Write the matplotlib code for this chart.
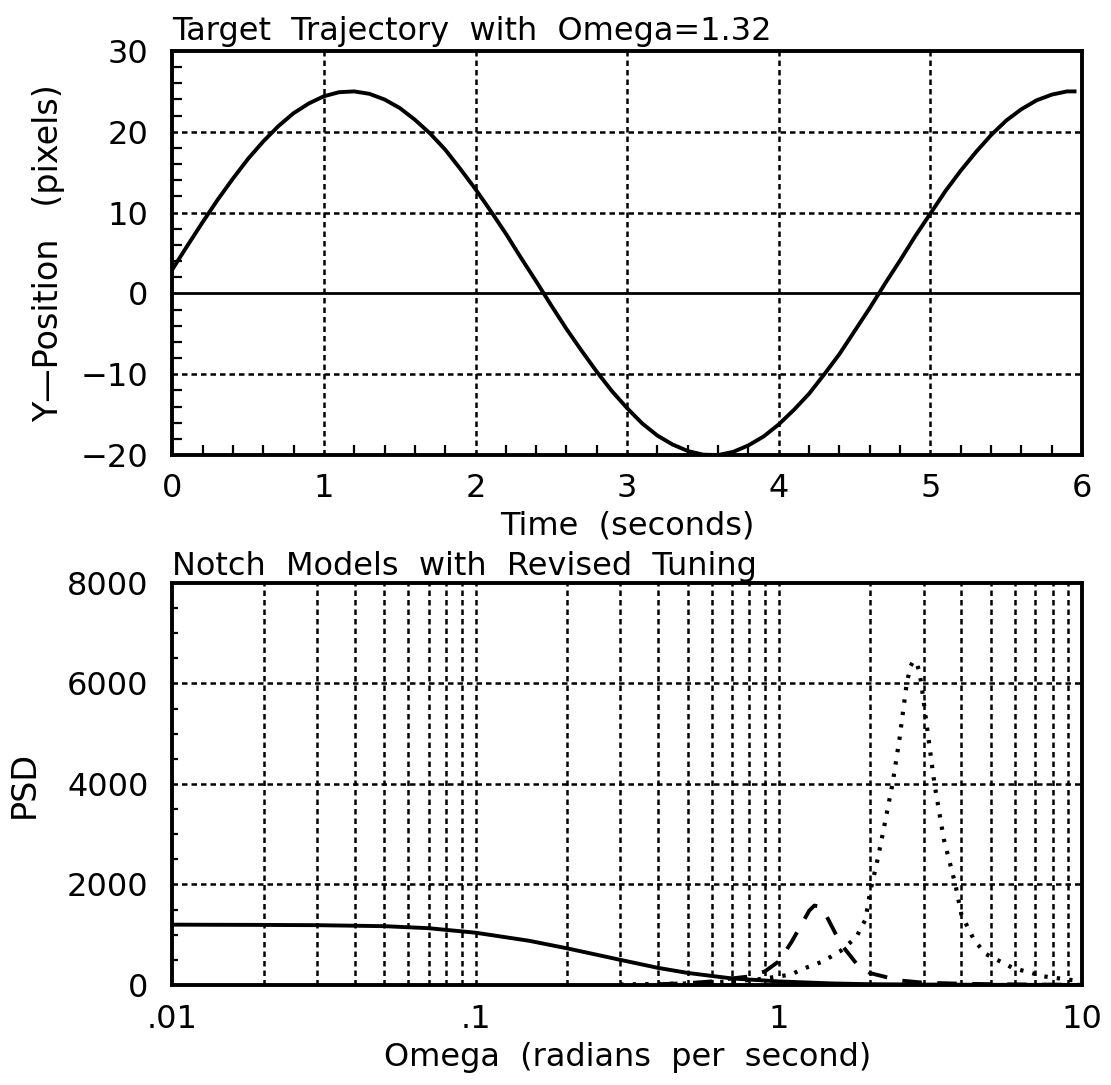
import numpy as np
import matplotlib
matplotlib.use('Agg')
import matplotlib.pyplot as plt
from matplotlib.ticker import MultipleLocator, FixedLocator, NullFormatter

plt.rcParams['font.family'] = ['DejaVu Sans']
plt.rcParams['font.size'] = 23

# top panel: target trajectory
t_sec = [0.0, 0.1, 0.2, 0.3, 0.4, 0.5, 0.6, 0.7, 0.8, 0.9, 1.0, 1.1, 1.2, 1.3, 1.4, 1.5,
         1.6, 1.7, 1.8, 1.9, 2.0, 2.1, 2.2, 2.3, 2.4, 2.5, 2.6, 2.7, 2.8, 2.9, 3.0,
         3.1, 3.2, 3.3, 3.4, 3.5, 3.6, 3.7, 3.8, 3.9, 4.0, 4.1, 4.2, 4.3, 4.4, 4.5,
         4.6, 4.7, 4.8, 4.9, 5.0, 5.1, 5.2, 5.3, 5.4, 5.5, 5.6, 5.7, 5.8, 5.9, 5.95]
y_pos = [2.95, 5.9, 8.8, 11.6, 14.2, 16.65, 18.8, 20.7, 22.3, 23.5, 24.4, 24.9, 25.0, 24.7,
         24.0, 22.95, 21.5, 19.8, 17.8, 15.4, 12.9, 10.2, 7.4, 4.4, 1.5, -1.5, -4.4, -7.1,
         -9.7, -12.1, -14.2, -16.1, -17.6, -18.7, -19.5, -19.95, -20.0, -19.6, -18.8, -17.7,
         -16.2, -14.4, -12.4, -10.0, -7.5, -4.65, -1.8, 1.2, 4.1, 7.1, 9.9, 12.7, 15.2, 17.5,
         19.6, 21.4, 22.8, 23.9, 24.6, 25.0, 25.0]

# bottom panel: notch models
w_solid = [0.01, 0.02, 0.03, 0.05, 0.07, 0.1, 0.15, 0.2, 0.3, 0.4, 0.5, 0.7, 1.0, 1.5, 2.0, 3.0, 5.0, 10.0]
psd_solid = [1200, 1195, 1190, 1170, 1130, 1040, 880, 730, 500, 340, 240, 130, 70, 30, 15, 8, 3, 1]

w_dash = [0.4, 0.5, 0.6, 0.7, 0.8, 0.9, 1.0, 1.1, 1.2, 1.26, 1.31, 1.36, 1.4, 1.5, 1.6, 1.8, 2.0,
          2.5, 3.0, 4.0, 5.0, 7.0, 10.0]
psd_dash = [15, 35, 70, 130, 170, 270, 470, 850, 1250, 1480, 1580, 1560, 1500, 1150, 820, 430, 236,
            90, 45, 25, 15, 8, 3]

w_dot = [0.3, 0.5, 0.7, 0.85, 1.0, 1.1, 1.2, 1.4, 1.6, 1.8, 1.93, 2.0, 2.1, 2.2, 2.37, 2.5, 2.64,
         2.72, 2.78, 2.85, 2.9, 2.95, 3.1, 3.26, 3.5, 3.82, 4.0, 4.4, 4.8, 5.9, 7.5, 10.0]
psd_dot = [10, 30, 70, 110, 170, 210, 320, 470, 680, 950, 1300, 1850, 2400, 3000, 4000, 4900, 6000,
           6350, 6450, 6400, 6250, 6000, 5000, 4000, 2900, 2000, 1400, 900, 620, 340, 170, 70]

grid_style = dict(color='black', linestyle=(0, (2.2, 1.6)), linewidth=1.8)

fig = plt.figure(figsize=(11.11, 10.85), dpi=100)
ax1 = fig.add_axes([0.155, 0.5806, 0.819, 0.3724])
ax2 = fig.add_axes([0.155, 0.0922, 0.819, 0.3705])

# ---- top
ax1.plot(t_sec, y_pos, color='black', linewidth=2.8)
ax1.axhline(0, color='black', linewidth=2.0)
ax1.set_xlim(0, 6)
ax1.set_ylim(-20, 30)
ax1.xaxis.set_major_locator(MultipleLocator(1))
ax1.yaxis.set_major_locator(MultipleLocator(10))
ax1.xaxis.set_minor_locator(MultipleLocator(0.2))
ax1.yaxis.set_minor_locator(MultipleLocator(2))
for xv in [1, 2, 3, 4, 5]:
    ax1.axvline(xv, **grid_style)
for yv in [-10, 10, 20]:
    ax1.axhline(yv, **grid_style)
ax1.tick_params(which='both', direction='in', top=False, right=False, width=1.6)
ax1.tick_params(which='major', length=0)
ax1.tick_params(axis='y', pad=17)
ax1.tick_params(axis='x', pad=13)
ax1.tick_params(which='minor', length=7)
ax1.set_title('Target  Trajectory  with  Omega=1.32', loc='left', fontsize=23, pad=8)
ax1.set_xlabel('Time  (seconds)')
ax1.xaxis.set_label_coords(0.5, -0.136)
ax1.set_ylabel('Y\u2014Position   (pixels)', fontsize=24)
ax1.yaxis.set_label_coords(-0.118, 0.5)

# ---- bottom
ax2.plot(w_solid, psd_solid, color='black', linewidth=2.8)
ax2.plot(w_dash, psd_dash, color='black', linewidth=2.8, linestyle=(0, (5, 4)))
ax2.plot(w_dot, psd_dot, color='black', linewidth=3.0, linestyle=(0, (0.8, 2.2)))
ax2.set_xscale('log')
ax2.set_xlim(0.01, 10)
ax2.set_ylim(0, 8000)
grid_x = [m * 10.0 ** e for e in [-2, -1, 0] for m in range(1, 10)][1:]
for xv in grid_x:
    ax2.axvline(xv, **grid_style)
for yv in [2000, 4000, 6000]:
    ax2.axhline(yv, **grid_style)
ax2.xaxis.set_major_locator(FixedLocator([0.01, 0.1, 1, 10]))
ax2.set_xticklabels(['.01', '.1', '1', '10'])
ax2.xaxis.set_minor_locator(FixedLocator([]))
ax2.xaxis.set_minor_formatter(NullFormatter())
ax2.yaxis.set_major_locator(MultipleLocator(2000))
ax2.yaxis.set_minor_locator(MultipleLocator(500))
ax2.tick_params(which='both', direction='in', top=False, right=False, width=1.6)
ax2.tick_params(which='major', length=0)
ax2.tick_params(which='minor', length=4)
ax2.tick_params(axis='y', pad=17)
ax2.tick_params(axis='x', pad=14)
ax2.set_title('Notch  Models  with  Revised  Tuning', loc='left', fontsize=23, pad=6)
ax2.set_xlabel('Omega  (radians  per  second)')
ax2.xaxis.set_label_coords(0.5, -0.142)
ax2.set_ylabel('PSD', fontsize=24)
ax2.yaxis.set_label_coords(-0.145, 0.5)

for ax in (ax1, ax2):
    for sp in ax.spines.values():
        sp.set_linewidth(2.8)

fig.savefig('out.png', dpi=100)
